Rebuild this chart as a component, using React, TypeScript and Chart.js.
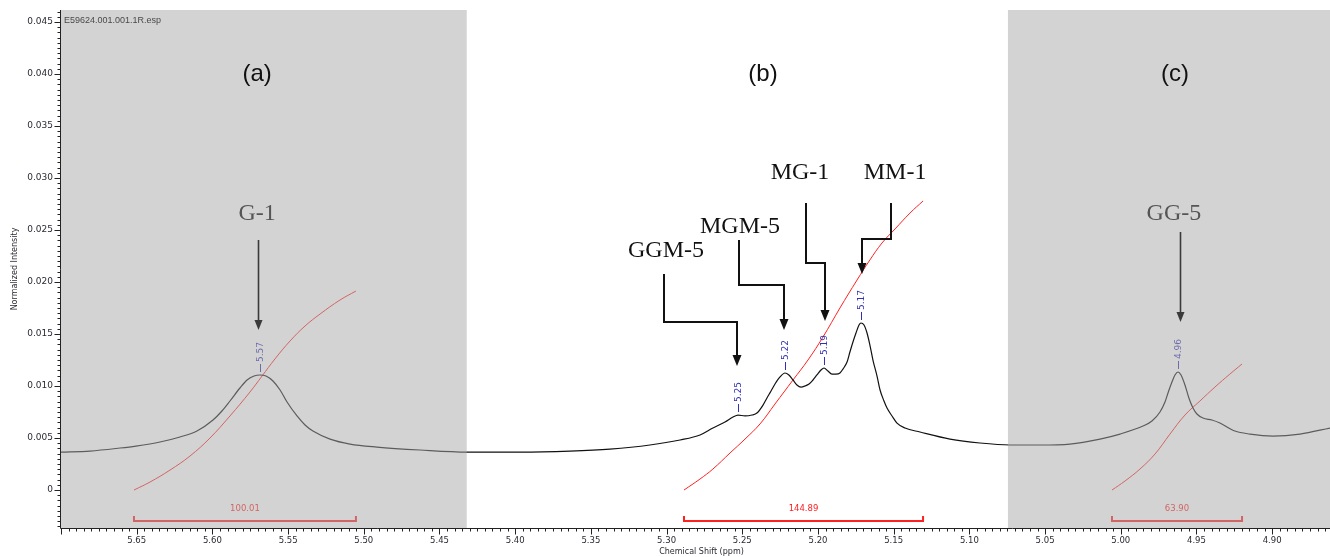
import React, { useEffect, useRef } from 'react';
import { Chart, registerables } from 'chart.js';

Chart.register(...registerables);

// ---- Spectrum (chemical shift in ppm, normalized intensity) ----
const specPpm = [
  5.7, 5.6808, 5.661, 5.6505, 5.6346, 5.6214, 5.6102, 5.5996, 5.5937, 5.5884,
  5.5818, 5.5771, 5.5725, 5.5686, 5.5646, 5.56, 5.5553, 5.5507, 5.5441, 5.5388,
  5.5336, 5.5223, 5.5091, 5.4913, 5.4629, 5.4318, 5.3968, 5.3638, 5.3374, 5.311,
  5.2911, 5.2779, 5.2694, 5.2614, 5.2561, 5.2528, 5.2482, 5.2436, 5.2403, 5.2363,
  5.2337, 5.231, 5.2284, 5.2251, 5.2218, 5.2192, 5.2165, 5.2139, 5.2112, 5.2086,
  5.2059, 5.2033, 5.2007, 5.198, 5.196, 5.1934, 5.1908, 5.1881, 5.1855, 5.1835,
  5.1808, 5.1789, 5.1769, 5.1749, 5.1729, 5.1716, 5.1696, 5.1676, 5.1657, 5.1637,
  5.161, 5.159, 5.1564, 5.1544, 5.1511, 5.1478, 5.1425, 5.1326, 5.1128, 5.093,
  5.0732, 5.0534, 5.0336, 5.0137, 5.0005, 4.9853, 4.9794, 4.9741, 4.9708, 4.9688,
  4.9662, 4.9642, 4.9622, 4.9602, 4.9576, 4.955, 4.9523, 4.9497, 4.9457, 4.9398,
  4.9345, 4.9246, 4.9147, 4.8995, 4.8816, 4.8618,
];
const specInt = [
  0.00365, 0.00375, 0.00404, 0.00423, 0.00462, 0.0051, 0.00567, 0.00673, 0.0076, 0.00856,
  0.00981, 0.01058, 0.01096, 0.01106, 0.01096, 0.01048, 0.00962, 0.00846, 0.00712, 0.00625,
  0.00567, 0.0049, 0.00442, 0.00413, 0.00385, 0.00365, 0.00365, 0.00375, 0.00394, 0.00433,
  0.00481, 0.00529, 0.00596, 0.00654, 0.00702, 0.00721, 0.00712, 0.00721, 0.0074, 0.00817,
  0.00885, 0.00952, 0.01019, 0.01087, 0.01125, 0.01106, 0.01058, 0.0101, 0.0099, 0.01,
  0.01019, 0.01058, 0.01106, 0.01154, 0.01173, 0.01144, 0.01115, 0.01115, 0.01125, 0.01163,
  0.01231, 0.01327, 0.01423, 0.0151, 0.01587, 0.01606, 0.01587, 0.0151, 0.01394, 0.0125,
  0.01096, 0.00962, 0.00856, 0.00788, 0.00712, 0.00644, 0.00596, 0.00558, 0.0049, 0.00452,
  0.00433, 0.00433, 0.00442, 0.0049, 0.00538, 0.00615, 0.00663, 0.0075, 0.00846, 0.00933,
  0.01038, 0.01106, 0.01135, 0.01106, 0.0101, 0.00885, 0.00788, 0.00731, 0.00692, 0.00673,
  0.00644, 0.00567, 0.00538, 0.00519, 0.00538, 0.00596,
];

// ---- Integral curves ----
const integralAPpm = [5.6518, 5.6412, 5.628, 5.6148, 5.6016, 5.5884, 5.5752, 5.5672, 5.5587, 5.5487, 5.5388, 5.5289, 5.5157, 5.5052];
const integralAVal = [0, 0.00077, 0.00192, 0.00327, 0.005, 0.00712, 0.00942, 0.01096, 0.0126, 0.01433, 0.01577, 0.01692, 0.01827, 0.01913];
const integralBPpm = [5.2885, 5.2779, 5.2694, 5.2581, 5.2482, 5.2383, 5.2284, 5.2165, 5.2066, 5.1967, 5.1855, 5.1742, 5.1657, 5.1577, 5.1491, 5.1392, 5.1306];
const integralBVal = [0, 0.00106, 0.00202, 0.00356, 0.0049, 0.00635, 0.00827, 0.01058, 0.0125, 0.01471, 0.0175, 0.02019, 0.02212, 0.02375, 0.0251, 0.02663, 0.02779];
const integralCPpm = [5.0058, 4.9972, 4.9873, 4.9774, 4.9675, 4.9576, 4.9477, 4.9378, 4.9279, 4.9199];
const integralCVal = [0, 0.00087, 0.00202, 0.00346, 0.00538, 0.00721, 0.00856, 0.0099, 0.01115, 0.01212];
const integralLabels = ['100.01', '144.89', '63.90'];

// ---- Peak picks ----
const peakPpm = [5.5686, 5.2528, 5.2218, 5.196, 5.1716, 4.9622];
const peakInt = [0.01106, 0.00721, 0.01125, 0.01173, 0.01606, 0.01135];
const peakLabels = ['5.57', '5.25', '5.22', '5.19', '5.17', '4.96'];

// ---- Axes ----
const xMin = 4.8618;
const xMax = 5.7;
const yMin = -0.00365;
const yMax = 0.04615;
const xTicks = [5.65, 5.6, 5.55, 5.5, 5.45, 5.4, 5.35, 5.3, 5.25, 5.2, 5.15, 5.1, 5.05, 5.0, 4.95, 4.9];
const yTicks = [0, 0.005, 0.01, 0.015, 0.02, 0.025, 0.03, 0.035, 0.04, 0.045];
const yTickLabels = ['0', '0.005', '0.010', '0.015', '0.020', '0.025', '0.030', '0.035', '0.040', '0.045'];

// ---- Shaded regions and region labels ----
const shadedFrom = [5.7, 5.0745];
const shadedTo = [5.432, 4.8618];
const regionNames = ['(a)', '(b)', '(c)'];
const regionPpm = [5.5705, 5.2363, 4.9642];
const regionLabelInt = 0.03933;

// ---- Straight annotations (G-1, GG-5) ----
const plainNames = ['G-1', 'GG-5'];
const plainTextPpm = [5.5705, 4.9649];
const plainTextInt = [0.02596, 0.02596];
const plainArrowPpm = [5.5699, 4.9609];
const plainArrowFrom = [0.02404, 0.02481];
const plainArrowTo = [0.01538, 0.01615];

// ---- Elbow callouts ----
const calloutNames = ['GGM-5', 'MGM-5', 'MG-1', 'MM-1'];
const calloutTextPpm = [5.3004, 5.2515, 5.2119, 5.1491];
const calloutTextInt = [0.0224, 0.02471, 0.0299, 0.0299];
const calloutPaths: number[][][] = [
  [[5.3017, 0.02077], [5.3017, 0.01615], [5.2535, 0.01615], [5.2535, 0.01192]],
  [[5.2522, 0.02404], [5.2522, 0.01971], [5.2225, 0.01971], [5.2225, 0.01538]],
  [[5.2079, 0.0276], [5.2079, 0.02183], [5.1954, 0.02183], [5.1954, 0.01625]],
  [[5.1518, 0.0276], [5.1518, 0.02413], [5.1709, 0.02413], [5.1709, 0.02077]],
];

const integralPpm = [integralAPpm, integralBPpm, integralCPpm];
const integralVal = [integralAVal, integralBVal, integralCVal];

function arrowHead(ctx: CanvasRenderingContext2D, x: number, y: number, halfW: number, len: number) {
  ctx.beginPath();
  ctx.moveTo(x, y);
  ctx.lineTo(x - halfW, y - len);
  ctx.lineTo(x + halfW, y - len);
  ctx.closePath();
  ctx.fill();
}

const decorPlugin = {
  id: 'nmrDecor',
  afterDatasetsDraw(chart: any) {
    const { ctx, chartArea: ca, scales } = chart;
    const xs = scales.x;
    const ys = scales.y;
    const X = (v: number) => xs.getPixelForValue(v);
    const Y = (v: number) => ys.getPixelForValue(v);
    ctx.save();

    // Peak labels
    ctx.strokeStyle = '#3030b0';
    ctx.fillStyle = '#3030b0';
    ctx.lineWidth = 1;
    ctx.font = '9px "DejaVu Sans"';
    peakPpm.forEach((p, i) => {
      const px = Math.round(X(p)) + 0.5;
      const py = Y(peakInt[i]);
      ctx.beginPath();
      ctx.moveTo(px, py - 3);
      ctx.lineTo(px, py - 11);
      ctx.stroke();
      ctx.save();
      ctx.translate(px, py - 13);
      ctx.rotate(-Math.PI / 2);
      ctx.textAlign = 'left';
      ctx.textBaseline = 'middle';
      ctx.fillText(peakLabels[i], 0, 0);
      ctx.restore();
    });

    // Integral brackets
    ctx.strokeStyle = '#ff2020';
    ctx.fillStyle = '#ff2020';
    ctx.font = '8.5px "DejaVu Sans"';
    integralPpm.forEach((arr, i) => {
      const x0 = X(arr[0]);
      const x1 = X(arr[arr.length - 1]);
      const yb = Y(-0.00298);
      const yt = Y(-0.0025);
      ctx.lineWidth = 2;
      ctx.beginPath();
      ctx.moveTo(x0, yt);
      ctx.lineTo(x0, yb);
      ctx.lineTo(x1, yb);
      ctx.lineTo(x1, yt);
      ctx.stroke();
      ctx.textAlign = 'center';
      ctx.textBaseline = 'middle';
      ctx.fillText(integralLabels[i], (x0 + x1) / 2, Y(-0.00183));
    });

    // Shaded regions (semi-transparent overlay)
    ctx.fillStyle = 'rgba(167,167,167,0.5)';
    shadedFrom.forEach((f, i) => {
      const a = X(f);
      const b = X(shadedTo[i]);
      ctx.fillRect(Math.min(a, b), ca.top, Math.abs(b - a), ca.bottom - ca.top);
    });

    // Axes
    ctx.strokeStyle = '#222';
    ctx.fillStyle = '#2a2a33';
    ctx.lineWidth = 1;
    ctx.beginPath();
    ctx.moveTo(ca.left - 0.5, ca.top);
    ctx.lineTo(ca.left - 0.5, ca.bottom + 0.5);
    ctx.lineTo(ca.right, ca.bottom + 0.5);
    ctx.stroke();

    // y ticks
    const kyMin = Math.ceil(yMin / 0.0005);
    const kyMax = Math.floor(yMax / 0.0005);
    ctx.beginPath();
    for (let k = kyMin; k <= kyMax; k++) {
      const py = Math.round(Y(k * 0.0005)) + 0.5;
      const len = k % 10 === 0 ? 6 : 3;
      ctx.moveTo(ca.left - 0.5 - len, py);
      ctx.lineTo(ca.left - 0.5, py);
    }
    // x ticks
    const kxMin = Math.ceil(xMin / 0.005 - 1e-6);
    const kxMax = Math.floor(xMax / 0.005 + 1e-6);
    for (let k = kxMin; k <= kxMax; k++) {
      const px = Math.round(X(k * 0.005)) + 0.5;
      const len = k % 10 === 0 ? 6 : 3;
      ctx.moveTo(px, ca.bottom + 0.5);
      ctx.lineTo(px, ca.bottom + 0.5 + len);
    }
    ctx.stroke();

    ctx.font = '9px "DejaVu Sans"';
    ctx.textAlign = 'right';
    ctx.textBaseline = 'middle';
    yTicks.forEach((v, i) => ctx.fillText(yTickLabels[i], ca.left - 8, Y(v)));
    ctx.font = '8.5px "DejaVu Sans"';
    ctx.textAlign = 'center';
    xTicks.forEach((v) => ctx.fillText(v.toFixed(2), X(v), ca.bottom + 13));

    ctx.font = '8px "DejaVu Sans"';
    ctx.fillText('Chemical Shift (ppm)', (ca.left + ca.right) / 2 + 6, ca.bottom + 24);
    ctx.save();
    ctx.translate(15, (ca.top + ca.bottom) / 2);
    ctx.rotate(-Math.PI / 2);
    ctx.fillText('Normalized Intensity', 0, 0);
    ctx.restore();

    // File name
    ctx.fillStyle = '#4a4a4a';
    ctx.font = '9px "Liberation Sans"';
    ctx.textAlign = 'left';
    ctx.fillText('E59624.001.001.1R.esp', ca.left + 3, ca.top + 11);

    // Region labels
    ctx.fillStyle = '#111';
    ctx.font = '24px "Liberation Sans"';
    ctx.textAlign = 'center';
    ctx.textBaseline = 'alphabetic';
    regionNames.forEach((t, i) => ctx.fillText(t, X(regionPpm[i]), Y(regionLabelInt)));

    // Plain annotations
    ctx.font = '24px "Liberation Serif"';
    plainNames.forEach((t, i) => {
      ctx.fillStyle = '#555';
      ctx.fillText(t, X(plainTextPpm[i]), Y(plainTextInt[i]));
      const px = Math.round(X(plainArrowPpm[i])) + 0.5;
      const tip = Y(plainArrowTo[i]);
      ctx.strokeStyle = '#3a3a3a';
      ctx.fillStyle = '#3a3a3a';
      ctx.lineWidth = 1.6;
      ctx.beginPath();
      ctx.moveTo(px, Y(plainArrowFrom[i]));
      ctx.lineTo(px, tip - 8);
      ctx.stroke();
      arrowHead(ctx, px, tip, 4, 10);
    });

    // Elbow callouts
    calloutNames.forEach((t, i) => {
      ctx.fillStyle = '#111';
      ctx.fillText(t, X(calloutTextPpm[i]), Y(calloutTextInt[i]));
      const pts = calloutPaths[i].map(([p, v]) => [Math.round(X(p)), Math.round(Y(v))]);
      ctx.strokeStyle = '#111';
      ctx.lineWidth = 2;
      ctx.lineJoin = 'miter';
      ctx.beginPath();
      pts.forEach(([px, py], j) => {
        const yy = j === pts.length - 1 ? py - 8 : py;
        if (j === 0) ctx.moveTo(px, yy);
        else ctx.lineTo(px, yy);
      });
      ctx.stroke();
      const last = pts[pts.length - 1];
      arrowHead(ctx, last[0], last[1], 4.5, 11);
    });

    ctx.restore();
  },
};

export default function App() {
  const ref = useRef<HTMLCanvasElement>(null);
  useEffect(() => {
    const canvas = ref.current;
    if (!canvas) return;
    const chart = new Chart(canvas, {
      type: 'line',
      data: {
        datasets: [
          {
            label: 'Spectrum',
            data: specPpm.map((p, i) => ({ x: p, y: specInt[i] })),
            borderColor: '#111',
            borderWidth: 1.2,
            pointRadius: 0,
            cubicInterpolationMode: 'monotone',
          },
          ...integralPpm.map((arr, k) => ({
            label: 'Integral ' + integralLabels[k],
            data: arr.map((p, i) => ({ x: p, y: integralVal[k][i] })),
            borderColor: '#ff2020',
            borderWidth: 1,
            pointRadius: 0,
            tension: 0.4,
          })),
        ],
      },
      options: {
        animation: false,
        responsive: false,
        devicePixelRatio: 1,
        events: [],
        layout: { padding: { left: 61, right: 0, top: 10, bottom: 29 } },
        scales: {
          x: { type: 'linear', min: xMin, max: xMax, reverse: true, display: false },
          y: { type: 'linear', min: yMin, max: yMax, display: false },
        },
        plugins: { legend: { display: false }, tooltip: { enabled: false } },
      },
      plugins: [decorPlugin],
    } as any);
    return () => chart.destroy();
  }, []);
  return (
    <div style={{ position: 'fixed', left: 0, top: 0, width: 1330, height: 557, background: '#fff' }}>
      <canvas ref={ref} width={1330} height={557} style={{ display: 'block' }} />
    </div>
  );
}
